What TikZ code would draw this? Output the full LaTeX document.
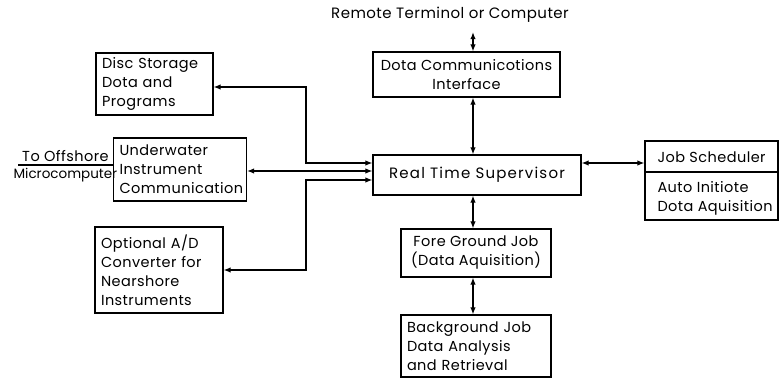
\documentclass[tikz,border=0pt]{standalone}
\usepackage{fontspec}
\setmainfont{Poppins}[LetterSpace=3]
\newfontfamily\tightfont{Poppins}
\newfontfamily\widefont{Poppins}[LetterSpace=8]
\usepackage{tikz}
\usetikzlibrary{arrows.meta, positioning, calc}

\begin{document}
\begin{tikzpicture}[x=1pt, y=-1pt,
    every node/.style={font=\fontsize{14.5}{19}\selectfont},
    box/.style={draw, line width=1.3pt, inner xsep=6pt, inner ysep=0pt, align=left},
    cbox/.style={box, align=center},
    dbl/.style={line width=1.2pt, {Latex[length=7pt,width=5.5pt]}-{Latex[length=7pt,width=5.5pt]}}]
  \useasboundingbox (0,0) rectangle (784,387);

  % Blocks
  \node[font=\fontsize{15}{19}\selectfont] (remote) at (450, 15) {Remote Terminol or Computer};
  \node[cbox, minimum width=187pt, minimum height=45pt] (dci) at (466.5, 74.5)
    {Dota Communicotions\\Interface};
  \node[cbox, minimum width=208pt, minimum height=40pt, font=\widefont\fontsize{15}{19}\selectfont] (rts) at (477, 175)
    {Real Time Supervisor};
  \node[cbox, minimum width=150pt, minimum height=48pt] (fg) at (476, 253)
    {Fore Ground Job\\(Data Aquisition)};
  \node[box, text width=138pt, minimum height=62pt] (bg) at (476, 346)
    {Background Job\\Data Analysis\\and Retrieval};

  \node[box, text width=105pt, minimum height=62pt] (disc) at (154.5, 84)
    {Disc Storage\\Dota and\\Programs};
  \node[box, text width=121pt, minimum height=63pt] (uw) at (180, 169.5)
    {Underwater\\Instrument\\Communication};
  \node[box, text width=116pt, minimum height=86pt] (adc) at (159, 270)
    {Optional A/D\\Converter for\\Nearshore\\Instruments};

  % Job scheduler with its split
  \node[box, minimum width=133pt, minimum height=79pt] (sched) at (711.5, 180.5) {};
  \draw[line width=1.3pt] (sched.west |- 0,172) -- (sched.east |- 0,172);
  \node[anchor=west] (schedtop) at (654, 157) {Job Scheduler};
  \node[anchor=west, align=left] (schedlow) at (654, 198) {Auto Initiote\\Dota Aquisition};

  % Bus lines
  \coordinate (spine) at (473, 0);
  \coordinate (lbus) at (306, 0);
  \coordinate (rtsA) at ([yshift=12pt]rts.west);
  \coordinate (rtsB) at ([yshift=4pt]rts.west);
  \coordinate (rtsC) at ([yshift=-5pt]rts.west);
  \coordinate (offshore) at (18, 165);

  \draw[dbl] (remote.south -| spine) ++(0,6) -- (dci.north -| spine);
  \draw[dbl] (dci.south -| spine) -- (rts.north -| spine);
  \draw[dbl] (rts.south -| spine) -- (fg.north -| spine);
  \draw[dbl] (fg.south -| spine) -- (bg.north -| spine);
  \draw[dbl] ([yshift=12pt]rts.east) -- ([yshift=12pt]rts.east -| sched.west);

  \draw[dbl] ([yshift=-3pt]disc.east) -| (lbus |- rtsA) -- (rtsA);
  \draw[dbl] (rtsB -| uw.east) -- (rtsB);
  \draw[dbl] (adc.east) -| (lbus |- rtsC) -- (rtsC);

  % Offshore link
  \draw[line width=1.2pt] (offshore) -- node[above=-1pt] (tooff) {To Offshore}
    node[below=-1pt, font=\tightfont\fontsize{13.5}{16}\selectfont] (micro) {Microcomputer} (offshore -| uw.west);
\end{tikzpicture}
\end{document}
